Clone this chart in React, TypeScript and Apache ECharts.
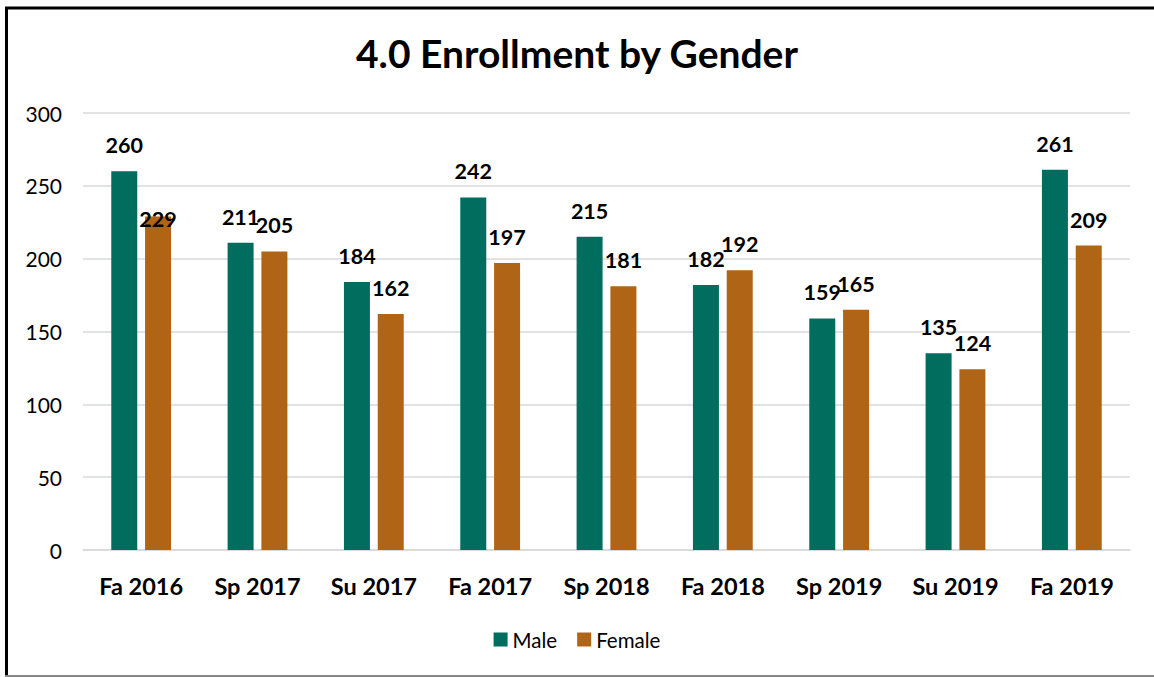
import React, { useEffect, useRef } from "react";
import * as echarts from "echarts";

const categories = ["Fa 2016", "Sp 2017", "Su 2017", "Fa 2017", "Sp 2018", "Fa 2018", "Sp 2019", "Su 2019", "Fa 2019"];
const male = [260, 211, 184, 242, 215, 182, 159, 135, 261];
const female = [229, 205, 162, 197, 181, 192, 165, 124, 209];
const yTicks = [0, 50, 100, 150, 200, 250, 300];

const FONT = "Lato";
const MALE_COLOR = "#006D5F";
const FEMALE_COLOR = "#B06415";

export default function App() {
  const ref = useRef<HTMLDivElement>(null);
  useEffect(() => {
    if (!ref.current) return;
    const chart = echarts.init(ref.current, undefined, { renderer: "svg" });
    const labelStyle = {
      show: true,
      position: "top",
      distance: 15,
      fontFamily: FONT,
      fontWeight: "bold",
      fontSize: 21.5,
      color: "#000",
    };
    chart.setOption({
      animation: false,
      backgroundColor: "#fff",
      title: {
        text: "4.0 Enrollment by Gender",
        left: "center",
        top: 28,
        textStyle: { fontFamily: FONT, fontWeight: "bold", fontSize: 39, color: "#000" },
      },
      legend: {
        bottom: 22,
        left: "center",
        itemWidth: 14,
        itemHeight: 14,
        itemGap: 20,
        icon: "rect",
        textStyle: { fontFamily: FONT, fontSize: 20.5, color: "#000" },
        data: ["Male", "Female"],
      },
      grid: { left: 83, right: 24, top: 113, bottom: 127, containLabel: false },
      xAxis: {
        type: "category",
        data: categories,
        axisTick: { show: false },
        axisLine: { lineStyle: { color: "#d9d9d9", width: 1.5 } },
        axisLabel: { fontFamily: FONT, fontWeight: "bold", fontSize: 23.5, color: "#000", margin: 24 },
      },
      yAxis: {
        type: "value",
        min: yTicks[0],
        max: yTicks[yTicks.length - 1],
        interval: yTicks[1] - yTicks[0],
        axisLine: { show: false },
        axisTick: { show: false },
        splitLine: { lineStyle: { color: "#d9d9d9", width: 1.5 } },
        axisLabel: { fontFamily: FONT, fontSize: 21, color: "#000", margin: 21 },
      },
      graphic: [
        { type: "line", shape: { x1: 5, y1: 8, x2: 1154, y2: 8 }, style: { stroke: "#000", lineWidth: 3 } },
        { type: "line", shape: { x1: 6.5, y1: 7, x2: 6.5, y2: 677 }, style: { stroke: "#000", lineWidth: 3 } },
        { type: "line", shape: { x1: 5, y1: 676, x2: 1154, y2: 676 }, style: { stroke: "#888", lineWidth: 2 } },
      ],
      series: [
        {
          name: "Male",
          type: "bar",
          data: male,
          barWidth: 26,
          barGap: "30%",
          itemStyle: { color: MALE_COLOR },
          label: labelStyle,
        },
        {
          name: "Female",
          type: "bar",
          data: female.map((v, i) => (i === 0 ? { value: v, label: { offset: [0, 29] } } : v)),
          barWidth: 26,
          itemStyle: { color: FEMALE_COLOR },
          label: labelStyle,
        },
      ],
    });
    return () => chart.dispose();
  }, []);
  return (
    <div style={{ position: "fixed", left: 0, top: 0, width: 1154, height: 677 }}>
      <div ref={ref} style={{ width: 1154, height: 677 }} />
    </div>
  );
}
